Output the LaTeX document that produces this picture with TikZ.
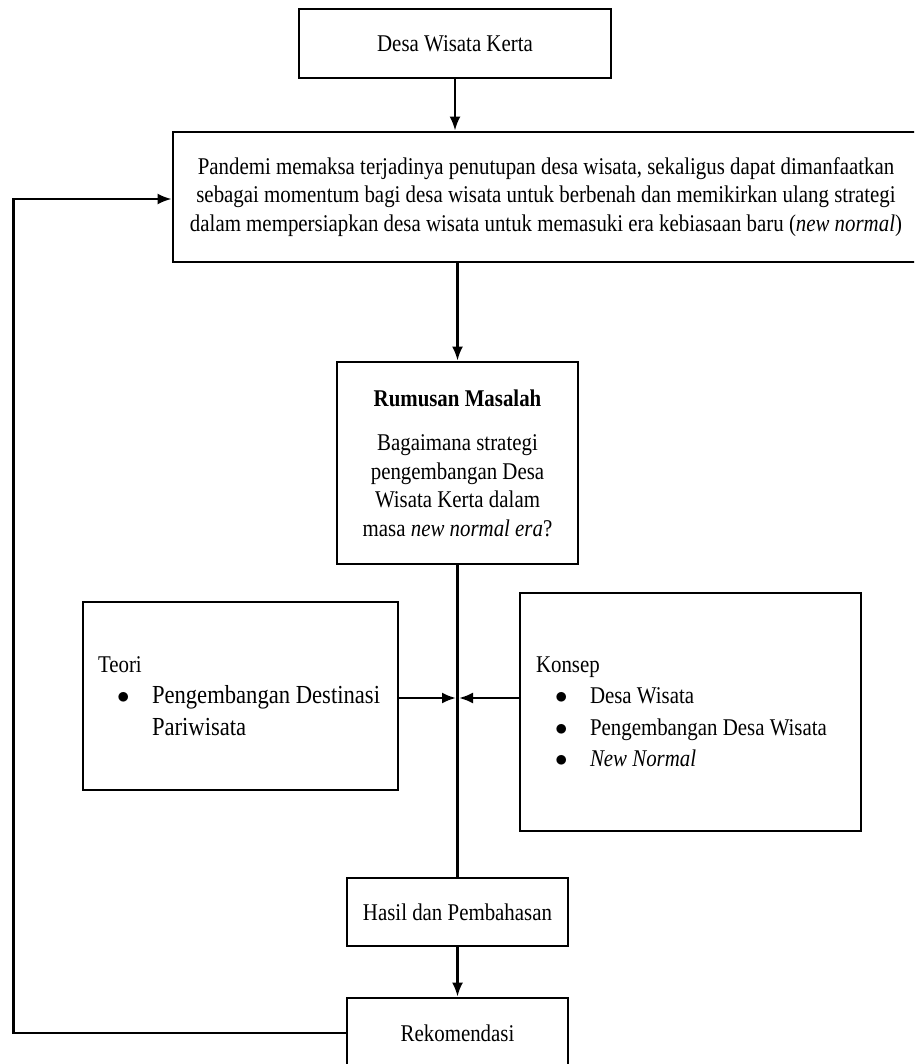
\documentclass[tikz,border=0pt]{standalone}
\usepackage{fontspec}
\setmainfont[FakeStretch=0.87]{Liberation Serif}
\usetikzlibrary{arrows.meta}

\tikzset{
    kotak/.style={draw, line width=2.8pt, inner sep=0pt, align=center,
        font=\fontsize{24}{28.5}\selectfont},
    daftar/.style={kotak, align=flush left, font=\fontsize{24}{31.5}\selectfont},
}
\newcommand{\butir}{\hspace*{19pt}\makebox[35pt][l]{$\bullet$}}

\begin{document}
\begin{tikzpicture}[x=1pt, y=-1pt, line width=2.4pt, >={Latex[length=14pt,width=11pt]}]
    \useasboundingbox (0,0) rectangle (914,1064);
    \clip (0,0) rectangle (914,1064);

    % Boxes:
    \node [kotak, minimum width=312pt, minimum height=69pt] (desa) at (455,43.5) {Desa Wisata Kerta};
    \node [kotak, minimum width=746pt, minimum height=130pt] (pandemi) at (546,197)
        {Pandemi memaksa terjadinya penutupan desa wisata, sekaligus dapat dimanfaatkan\\
         sebagai momentum bagi desa wisata untuk berbenah dan memikirkan ulang strategi\\
         dalam mempersiapkan desa wisata untuk memasuki era kebiasaan baru (\textit{new normal})};
    \node [kotak, minimum width=241pt, minimum height=202pt] (rumusan) at (457.5,463)
        {\textbf{Rumusan Masalah}\\[16pt]
         Bagaimana strategi\\ pengembangan Desa\\ Wisata Kerta dalam\\ masa \textit{new normal era}?};
    \node [daftar, minimum width=315pt, minimum height=188pt, text width=285pt] (teori) at (240.5,696)
        {Teori\\
         \butir{\fontsize{26}{31.5}\selectfont Pengembangan Destinasi}\\
         \hspace*{54pt}{\fontsize{26}{31.5}\selectfont Pariwisata}};
    \node [daftar, minimum width=341pt, minimum height=238pt, text width=309pt] (konsep) at (690.5,712)
        {Konsep\\
         \butir Desa Wisata\\
         \butir Pengembangan Desa Wisata\\
         \butir\textit{New Normal}};
    \node [kotak, minimum width=221pt, minimum height=68pt] (hasil) at (457.5,912) {Hasil dan Pembahasan};
    \node [kotak, minimum width=221pt, minimum height=70pt] (rekom) at (457.5,1033) {Rekomendasi};

    % connectors
    \coordinate (temu) at (457.5,698);
    \coordinate (sudut) at (13.5,199);
    \draw [->] (desa.south) -- (desa.south |- pandemi.north);
    \draw [->] (pandemi.south -| rumusan) -- (rumusan.north);
    \draw (rumusan.south) -- (hasil.north);
    \draw [->] (teori.east |- temu) -- ([xshift=-1.5pt]temu);
    \draw [->] (konsep.west |- temu) -- ([xshift=1.5pt]temu);
    \draw [->] (hasil.south) -- (rekom.north);
    \draw [->] (rekom.west) -| (sudut) -- (pandemi.west |- sudut);
\end{tikzpicture}
\end{document}
